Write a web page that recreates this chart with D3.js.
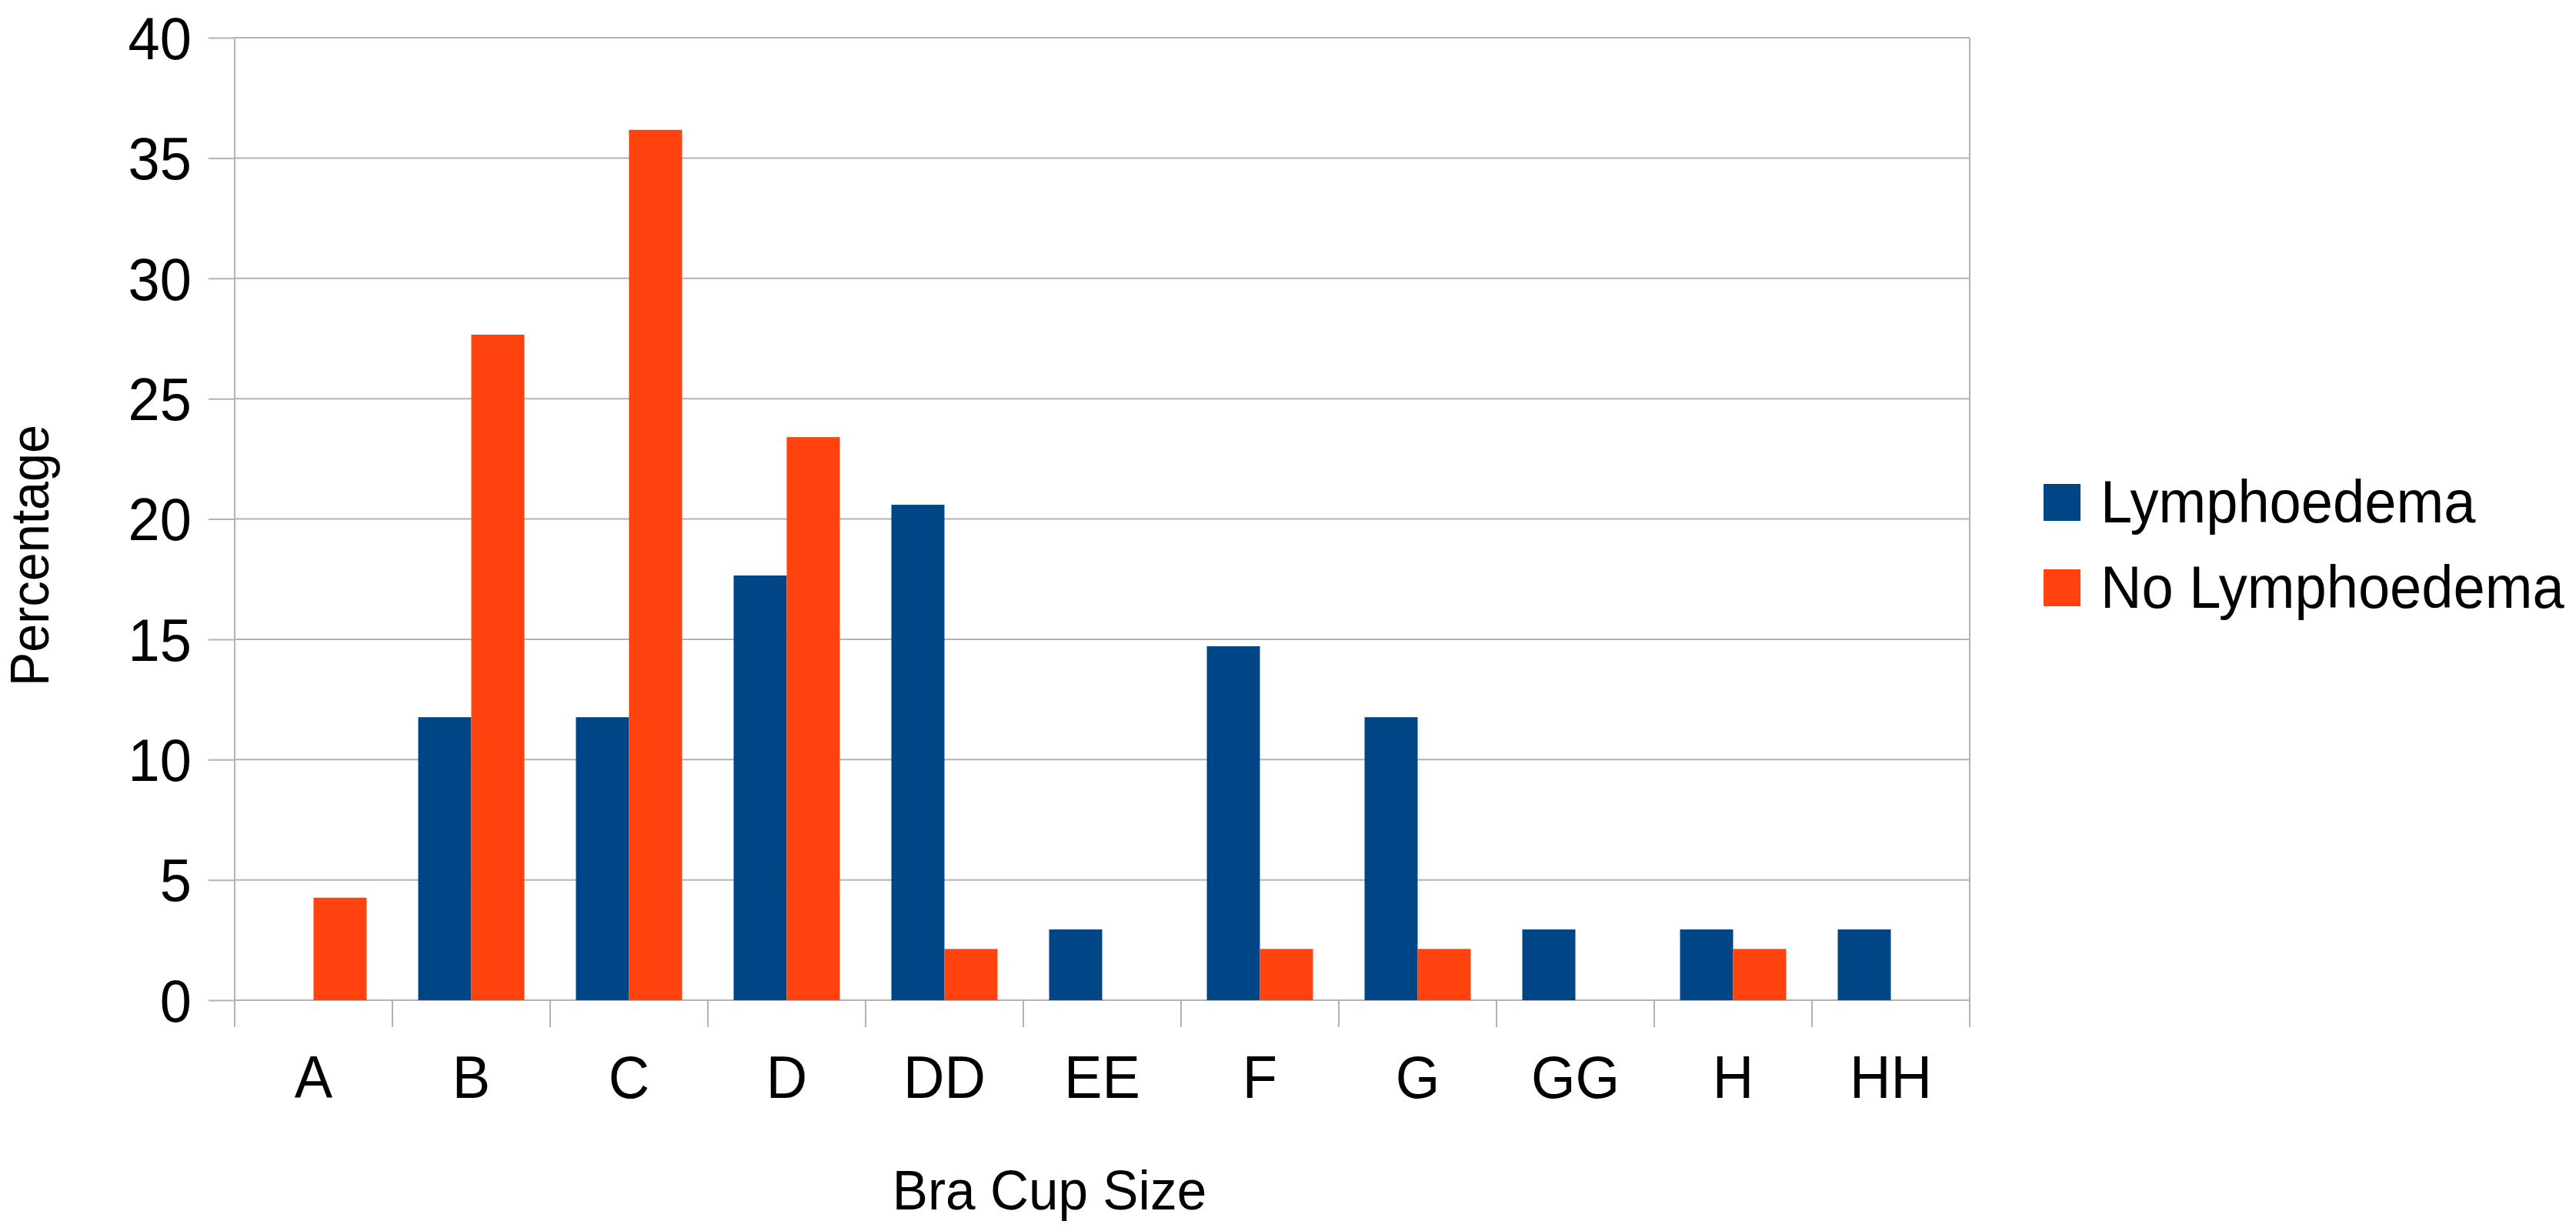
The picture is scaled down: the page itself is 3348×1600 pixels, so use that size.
<!DOCTYPE html>
<html>
<head>
<meta charset="utf-8">
<script src="https://cdn.jsdelivr.net/npm/d3@7"></script>
<style>
  body { margin: 0; background: #fff; }
  text { font-family: "Liberation Sans", Arial, sans-serif; fill: #000; }
</style>
</head>
<body>
<svg width="3348" height="1600"></svg>
<script>
var categories = ["A", "B", "C", "D", "DD", "EE", "F", "G", "GG", "H", "HH"];
var seriesNames = ["Lymphoedema", "No Lymphoedema"];
var lymphoedema = [0, 11.76, 11.76, 17.65, 20.59, 2.94, 14.71, 11.76, 2.94, 2.94, 2.94];
var noLymphoedema = [4.26, 27.66, 36.17, 23.40, 2.13, 0, 2.13, 2.13, 0, 2.13, 0];
var yTicks = [0, 5, 10, 15, 20, 25, 30, 35, 40];
var colors = ["#004586", "#ff420e"];

var svg = d3.select("svg"),
    margin = {top: 49, left: 305},
    width = 2255,
    height = 1251,
    g = svg.append("g").attr("transform", "translate(" + margin.left + "," + margin.top + ")");

// the source font is a little narrower than Liberation Sans
var sx = 0.95;
function squeeze(x, y, extra) {
    return "translate(" + x + "," + y + ")" + (extra || "") + " scale(" + sx + ",1)";
}

var x0 = d3.scaleBand()
    .domain(categories)
    .range([0, width]);

// two bars side by side, centred in each band
var x1 = d3.scaleBand()
    .domain(seriesNames)
    .range([0, x0.bandwidth()])
    .paddingOuter(0.486);

var y = d3.scaleLinear()
    .domain([0, 40])
    .range([height, 0]);

var grid = "#b3b3b3";

// y ticks + labels
var yAxis = d3.axisLeft(y)
    .tickValues(yTicks)
    .tickSize(34)
    .tickPadding(22);

g.append("g")
    .call(yAxis)
    .call(function(a) {
        a.select(".domain").remove();
        a.selectAll(".tick line").attr("stroke", grid).attr("stroke-width", 2);
        a.selectAll(".tick text")
            .attr("font-size", 78)
            .attr("font-family", "Liberation Sans, Arial, sans-serif")
            .attr("x", null).attr("dy", "0.35em")
            .attr("transform", squeeze(-56, 0));
    });

g.append("g")
    .selectAll("line")
    .data(yTicks)
    .enter().append("line")
    .attr("x1", 0).attr("x2", width)
    .attr("y1", function(d) { return y(d); })
    .attr("y2", function(d) { return y(d); })
    .attr("stroke", grid).attr("stroke-width", 2);

// bars
var rows = categories.map(function(c, i) {
    return {cat: c, vals: [lymphoedema[i], noLymphoedema[i]]};
});

var groups = g.append("g")
    .selectAll("g")
    .data(rows)
    .enter().append("g")
    .attr("transform", function(d) { return "translate(" + x0(d.cat) + ",0)"; });

groups.selectAll("rect")
    .data(function(d) { return d.vals.map(function(v, j) { return {name: seriesNames[j], v: v, j: j}; }); })
    .enter().append("rect")
    .attr("x", function(d) { return x1(d.name); })
    .attr("width", x1.bandwidth())
    .attr("y", function(d) { return y(d.v); })
    .attr("height", function(d) { return height - y(d.v); })
    .attr("fill", function(d) { return colors[d.j]; });

// x axis: ticks at band boundaries, labels centred
var bounds = d3.range(categories.length + 1);
g.append("g")
    .selectAll("line")
    .data(bounds)
    .enter().append("line")
    .attr("x1", function(i) { return i * x0.step(); })
    .attr("x2", function(i) { return i * x0.step(); })
    .attr("y1", function(i) { return (i === 0 || i === categories.length) ? 0 : height; })
    .attr("y2", height + 35)
    .attr("stroke", grid).attr("stroke-width", 2);

g.append("g")
    .selectAll("text")
    .data(categories)
    .enter().append("text")
    .attr("transform", function(d) { return squeeze(x0(d) + x0.bandwidth() / 2, 1427 - margin.top); })
    .attr("text-anchor", "middle")
    .attr("font-size", 78)
    .text(function(d) { return d; });

// axis titles
svg.append("text")
    .attr("transform", squeeze(1364, 1572))
    .attr("text-anchor", "middle")
    .attr("font-size", 73)
    .text("Bra Cup Size");

svg.append("text")
    .attr("transform", squeeze(63, 722, " rotate(-90)"))
    .attr("text-anchor", "middle")
    .attr("font-size", 70)
    .text("Percentage");

// legend
var legend = svg.append("g")
    .selectAll("g")
    .data(seriesNames)
    .enter().append("g")
    .attr("transform", function(d, i) { return "translate(2656," + (629 + i * 111) + ")"; });

legend.append("rect")
    .attr("width", 48).attr("height", 48)
    .attr("fill", function(d, i) { return colors[i]; });

legend.append("text")
    .attr("transform", squeeze(74, 50))
    .attr("font-size", 78)
    .text(function(d) { return d; });
</script>
</body>
</html>
